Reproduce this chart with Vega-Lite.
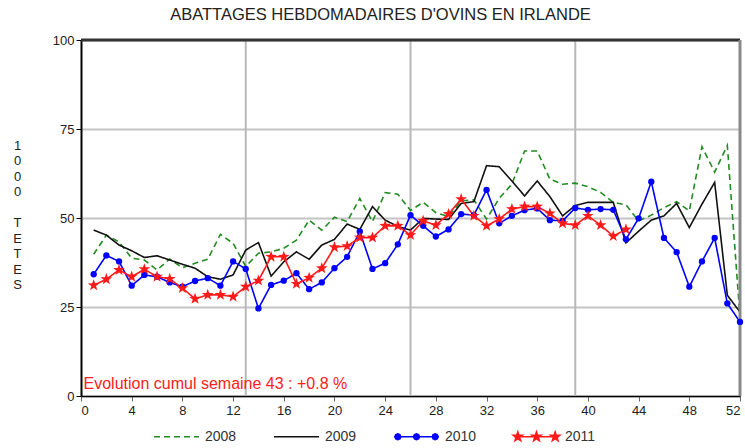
{
  "$schema": "https://vega.github.io/schema/vega-lite/v6.json",
  "width": 659,
  "height": 356,
  "autosize": "none",
  "padding": {"left": 81, "top": 40, "right": 5, "bottom": 52},
  "background": "white",
  "title": {"text": "ABATTAGES HEBDOMADAIRES D'OVINS EN IRLANDE", "anchor": "middle", "frame": "group", "dx": -30, "offset": 11, "fontSize": 16.5, "fontWeight": "normal", "font": "Liberation Sans", "color": "#222"},
  "config": {
    "view": {"stroke": null},
    "axis": {"labelFont": "Liberation Sans", "labelFontSize": 13, "labelColor": "#222", "titleFont": "Liberation Sans"}
  },
  "data": {"values": [
    {"year":"2008","week":1,"value":39.8},{"year":"2008","week":2,"value":45.2},{"year":"2008","week":3,"value":43.3},{"year":"2008","week":4,"value":38.7},{"year":"2008","week":5,"value":38.2},{"year":"2008","week":6,"value":35.4},{"year":"2008","week":7,"value":38.5},{"year":"2008","week":8,"value":36.0},{"year":"2008","week":9,"value":37.3},{"year":"2008","week":10,"value":38.4},{"year":"2008","week":11,"value":45.4},{"year":"2008","week":12,"value":42.9},{"year":"2008","week":13,"value":36.4},{"year":"2008","week":14,"value":40.1},{"year":"2008","week":15,"value":40.5},{"year":"2008","week":16,"value":41.5},{"year":"2008","week":17,"value":43.8},{"year":"2008","week":18,"value":49.4},{"year":"2008","week":19,"value":46.6},{"year":"2008","week":20,"value":50.2},{"year":"2008","week":21,"value":49.0},{"year":"2008","week":22,"value":55.5},{"year":"2008","week":23,"value":49.0},{"year":"2008","week":24,"value":57.1},{"year":"2008","week":25,"value":56.7},{"year":"2008","week":26,"value":52.1},{"year":"2008","week":27,"value":54.4},{"year":"2008","week":28,"value":51.5},{"year":"2008","week":29,"value":50.4},{"year":"2008","week":30,"value":54.8},{"year":"2008","week":31,"value":55.1},{"year":"2008","week":32,"value":49.7},{"year":"2008","week":33,"value":55.5},{"year":"2008","week":34,"value":59.5},{"year":"2008","week":35,"value":68.8},{"year":"2008","week":36,"value":68.8},{"year":"2008","week":37,"value":60.9},{"year":"2008","week":38,"value":59.5},{"year":"2008","week":39,"value":59.8},{"year":"2008","week":40,"value":58.8},{"year":"2008","week":41,"value":57.2},{"year":"2008","week":42,"value":54.4},{"year":"2008","week":43,"value":53.7},{"year":"2008","week":44,"value":49.2},{"year":"2008","week":45,"value":50.8},{"year":"2008","week":46,"value":52.9},{"year":"2008","week":47,"value":54.6},{"year":"2008","week":48,"value":52.0},{"year":"2008","week":49,"value":70.0},{"year":"2008","week":50,"value":62.9},{"year":"2008","week":51,"value":70.4},{"year":"2008","week":52,"value":22.0},
    {"year":"2009","week":1,"value":46.6},{"year":"2009","week":2,"value":45.2},{"year":"2009","week":3,"value":42.4},{"year":"2009","week":4,"value":40.8},{"year":"2009","week":5,"value":38.9},{"year":"2009","week":6,"value":39.4},{"year":"2009","week":7,"value":38.2},{"year":"2009","week":8,"value":37.0},{"year":"2009","week":9,"value":35.9},{"year":"2009","week":10,"value":33.5},{"year":"2009","week":11,"value":32.8},{"year":"2009","week":12,"value":34.0},{"year":"2009","week":13,"value":41.0},{"year":"2009","week":14,"value":43.1},{"year":"2009","week":15,"value":33.7},{"year":"2009","week":16,"value":37.7},{"year":"2009","week":17,"value":40.5},{"year":"2009","week":18,"value":38.4},{"year":"2009","week":19,"value":42.4},{"year":"2009","week":20,"value":44.0},{"year":"2009","week":21,"value":48.3},{"year":"2009","week":22,"value":46.8},{"year":"2009","week":23,"value":53.2},{"year":"2009","week":24,"value":49.4},{"year":"2009","week":25,"value":47.6},{"year":"2009","week":26,"value":46.6},{"year":"2009","week":27,"value":49.9},{"year":"2009","week":28,"value":49.7},{"year":"2009","week":29,"value":49.6},{"year":"2009","week":30,"value":54.1},{"year":"2009","week":31,"value":54.6},{"year":"2009","week":32,"value":64.7},{"year":"2009","week":33,"value":64.4},{"year":"2009","week":34,"value":60.4},{"year":"2009","week":35,"value":56.2},{"year":"2009","week":36,"value":60.4},{"year":"2009","week":37,"value":56.0},{"year":"2009","week":38,"value":50.6},{"year":"2009","week":39,"value":53.5},{"year":"2009","week":40,"value":54.4},{"year":"2009","week":41,"value":54.4},{"year":"2009","week":42,"value":54.4},{"year":"2009","week":43,"value":43.0},{"year":"2009","week":44,"value":46.3},{"year":"2009","week":45,"value":49.4},{"year":"2009","week":46,"value":50.6},{"year":"2009","week":47,"value":54.1},{"year":"2009","week":48,"value":47.3},{"year":"2009","week":49,"value":53.9},{"year":"2009","week":50,"value":60.0},{"year":"2009","week":51,"value":28.3},{"year":"2009","week":52,"value":23.6},
    {"year":"2010","week":1,"value":34.2},{"year":"2010","week":2,"value":39.5},{"year":"2010","week":3,"value":37.8},{"year":"2010","week":4,"value":31.0},{"year":"2010","week":5,"value":34.0},{"year":"2010","week":6,"value":33.5},{"year":"2010","week":7,"value":31.9},{"year":"2010","week":8,"value":30.7},{"year":"2010","week":9,"value":32.3},{"year":"2010","week":10,"value":33.1},{"year":"2010","week":11,"value":31.0},{"year":"2010","week":12,"value":37.8},{"year":"2010","week":13,"value":35.7},{"year":"2010","week":14,"value":24.6},{"year":"2010","week":15,"value":31.2},{"year":"2010","week":16,"value":32.4},{"year":"2010","week":17,"value":34.5},{"year":"2010","week":18,"value":30.0},{"year":"2010","week":19,"value":31.9},{"year":"2010","week":20,"value":35.9},{"year":"2010","week":21,"value":39.1},{"year":"2010","week":22,"value":46.2},{"year":"2010","week":23,"value":35.7},{"year":"2010","week":24,"value":37.3},{"year":"2010","week":25,"value":42.6},{"year":"2010","week":26,"value":50.8},{"year":"2010","week":27,"value":47.8},{"year":"2010","week":28,"value":44.8},{"year":"2010","week":29,"value":46.8},{"year":"2010","week":30,"value":51.1},{"year":"2010","week":31,"value":50.8},{"year":"2010","week":32,"value":57.9},{"year":"2010","week":33,"value":48.5},{"year":"2010","week":34,"value":50.6},{"year":"2010","week":35,"value":52.2},{"year":"2010","week":36,"value":52.7},{"year":"2010","week":37,"value":49.4},{"year":"2010","week":38,"value":49.2},{"year":"2010","week":39,"value":52.8},{"year":"2010","week":40,"value":52.3},{"year":"2010","week":41,"value":52.5},{"year":"2010","week":42,"value":52.3},{"year":"2010","week":43,"value":44.0},{"year":"2010","week":44,"value":49.9},{"year":"2010","week":45,"value":60.2},{"year":"2010","week":46,"value":44.4},{"year":"2010","week":47,"value":40.4},{"year":"2010","week":48,"value":30.7},{"year":"2010","week":49,"value":37.8},{"year":"2010","week":50,"value":44.4},{"year":"2010","week":51,"value":26.0},{"year":"2010","week":52,"value":20.8},
    {"year":"2011","week":1,"value":31.1},{"year":"2011","week":2,"value":32.8},{"year":"2011","week":3,"value":35.4},{"year":"2011","week":4,"value":33.5},{"year":"2011","week":5,"value":35.6},{"year":"2011","week":6,"value":33.5},{"year":"2011","week":7,"value":32.9},{"year":"2011","week":8,"value":30.3},{"year":"2011","week":9,"value":27.3},{"year":"2011","week":10,"value":28.4},{"year":"2011","week":11,"value":28.4},{"year":"2011","week":12,"value":27.9},{"year":"2011","week":13,"value":30.7},{"year":"2011","week":14,"value":32.4},{"year":"2011","week":15,"value":39.1},{"year":"2011","week":16,"value":39.1},{"year":"2011","week":17,"value":31.5},{"year":"2011","week":18,"value":33.2},{"year":"2011","week":19,"value":35.9},{"year":"2011","week":20,"value":41.8},{"year":"2011","week":21,"value":42.1},{"year":"2011","week":22,"value":44.5},{"year":"2011","week":23,"value":44.5},{"year":"2011","week":24,"value":47.8},{"year":"2011","week":25,"value":47.8},{"year":"2011","week":26,"value":45.2},{"year":"2011","week":27,"value":49.2},{"year":"2011","week":28,"value":48.0},{"year":"2011","week":29,"value":51.1},{"year":"2011","week":30,"value":55.3},{"year":"2011","week":31,"value":50.6},{"year":"2011","week":32,"value":47.8},{"year":"2011","week":33,"value":49.7},{"year":"2011","week":34,"value":52.5},{"year":"2011","week":35,"value":53.2},{"year":"2011","week":36,"value":53.2},{"year":"2011","week":37,"value":51.3},{"year":"2011","week":38,"value":48.5},{"year":"2011","week":39,"value":48.0},{"year":"2011","week":40,"value":50.6},{"year":"2011","week":41,"value":48.0},{"year":"2011","week":42,"value":44.9},{"year":"2011","week":43,"value":46.8}
  ]},
  "layer": [
    {"data": {"values": [{}]}, "mark": {"type": "rule", "color": "#b8b8b8", "strokeWidth": 2}, "encoding": {"x": {"datum": 13}}},
    {"data": {"values": [{}]}, "mark": {"type": "rule", "color": "#b8b8b8", "strokeWidth": 2}, "encoding": {"x": {"datum": 26}}},
    {"data": {"values": [{}]}, "mark": {"type": "rule", "color": "#b8b8b8", "strokeWidth": 2}, "encoding": {"x": {"datum": 39}}},
    {"mark": {"type": "line", "strokeWidth": 1.6},
      "encoding": {
        "x": {"field": "week", "type": "quantitative", "scale": {"domain": [0, 52], "nice": false, "zero": false},
          "axis": {"title": null, "values": [0,1,2,3,4,5,6,7,8,9,10,11,12,13,14,15,16,17,18,19,20,21,22,23,24,25,26,27,28,29,30,31,32,33,34,35,36,37,38,39,40,41,42,43,44,45,46,47,48,49,50,51,52],
            "labelExpr": "datum.value % 4 === 0 ? datum.label : ''", "labelOverlap": false, "labelFlush": true, "labelPadding": 3,
            "domainColor": "#000", "domainWidth": 1.5, "tickSize": 5, "tickColor": "#666", "grid": false,
            "encode": {
              "ticks": {"update": {"y2": {"signal": "datum.value % 4 === 0 ? 6 : 3"}, "stroke": {"signal": "datum.value % 4 === 0 ? '#000' : '#777'"}}}
            }}},
        "y": {"field": "value", "type": "quantitative", "scale": {"domain": [0, 100], "nice": false},
          "axis": {"values": [0, 25, 50, 75, 100], "domainColor": "#000", "domainWidth": 2, "tickSize": 5, "tickColor": "#000", "labelPadding": 2,
            "grid": true, "gridColor": "#c4c4c4", "gridWidth": 2,
            "title": ["1", "0", "0", "0", "\u200b", "T", "E", "T", "E", "S"], "titleAngle": 0, "titleAlign": "center", "titleBaseline": "middle",
            "titleX": -64, "titleY": 105, "titleLineHeight": 15.5, "titleFontSize": 13, "titleFontWeight": "normal", "titleColor": "#222"}},
        "color": {"field": "year", "type": "nominal", "scale": {"domain": ["2008", "2009", "2010", "2011"], "range": ["#228b22", "#111111", "#0000ff", "#ff1a1a"]},
          "legend": {"orient": "none", "legendX": 72, "legendY": 373, "direction": "horizontal", "title": null, "padding": 0,
            "symbolSize": 2025, "symbolStrokeWidth": 1.6, "labelFont": "Liberation Sans", "labelFontSize": 14, "labelColor": "#333", "labelOffset": 5, "columnPadding": 33,
            "encode": {"symbols": {"update": {
              "shape": {"signal": "datum.value === '2010' ? 'M-1,0L1,0M-0.7,0L-0.738,0.092L-0.83,0.13L-0.922,0.092L-0.96,0L-0.922,-0.092L-0.83,-0.13L-0.738,-0.092ZM0.13,0L0.092,0.092L0,0.13L-0.092,0.092L-0.13,0L-0.092,-0.092L0,-0.13L0.092,-0.092ZM0.96,0L0.922,0.092L0.83,0.13L0.738,0.092L0.7,0L0.738,-0.092L0.83,-0.13L0.922,-0.092Z' : datum.value === '2011' ? 'M-1,0L1,0M-0.83,-0.21L-0.781,-0.068L-0.63,-0.065L-0.75,0.026L-0.707,0.17L-0.83,0.084L-0.953,0.17L-0.91,0.026L-1.03,-0.065L-0.879,-0.068ZM0,-0.21L0.049,-0.068L0.2,-0.065L0.08,0.026L0.123,0.17L0,0.084L-0.123,0.17L-0.08,0.026L-0.2,-0.065L-0.049,-0.068ZM0.83,-0.21L0.879,-0.068L1.03,-0.065L0.91,0.026L0.953,0.17L0.83,0.084L0.707,0.17L0.75,0.026L0.63,-0.065L0.781,-0.068Z' : 'M-1,0L1,0'"},
              "strokeDash": {"signal": "datum.value === '2008' ? [7, 5] : [1, 0]"},
              "fill": {"signal": "datum.value === '2010' ? '#0000ff' : datum.value === '2011' ? '#ff1a1a' : 'transparent'"},
              "stroke": {"signal": "datum.value === '2008' ? '#228b22' : datum.value === '2009' ? '#111111' : datum.value === '2010' ? '#0000ff' : '#ff1a1a'"},
              "fillOpacity": {"value": 1},
              "strokeWidth": {"value": 1.6},
              "size": {"value": 2025}
            }}}}},
        "strokeDash": {"field": "year", "type": "nominal", "scale": {"domain": ["2008", "2009", "2010", "2011"], "range": [[6, 4], [1, 0], [1, 0], [1, 0]]}, "legend": null}
      }},
    {"data": {"values": [{}]}, "mark": {"type": "rule", "color": "#333", "strokeWidth": 3}, "encoding": {"y": {"datum": 100}}},
    {"data": {"values": [{}]}, "mark": {"type": "rule", "color": "#888", "strokeWidth": 3}, "encoding": {"x": {"datum": 52}}},
    {"transform": [{"filter": "datum.year === '2010'"}],
      "mark": {"type": "point", "filled": true, "size": 40, "opacity": 1},
      "encoding": {"x": {"field": "week", "type": "quantitative"}, "y": {"field": "value", "type": "quantitative"}, "color": {"field": "year", "type": "nominal"}}},
    {"transform": [{"filter": "datum.year === '2011'"}],
      "mark": {"type": "point", "filled": true, "size": 150, "opacity": 1, "shape": "M0,-1L0.235,-0.324L0.951,-0.309L0.38,0.124L0.588,0.809L0,0.4L-0.588,0.809L-0.38,0.124L-0.951,-0.309L-0.235,-0.324Z"},
      "encoding": {"x": {"field": "week", "type": "quantitative"}, "y": {"field": "value", "type": "quantitative"}, "color": {"field": "year", "type": "nominal"}}},
    {"data": {"values": [{"note": "Evolution cumul semaine 43 : +0.8 %"}]},
      "mark": {"type": "text", "align": "left", "baseline": "middle", "font": "Liberation Sans", "fontSize": 16, "fill": "#ff2020"},
      "encoding": {"x": {"datum": 0.2}, "y": {"datum": 3.4}, "text": {"field": "note", "type": "nominal"}}}
  ]
}
